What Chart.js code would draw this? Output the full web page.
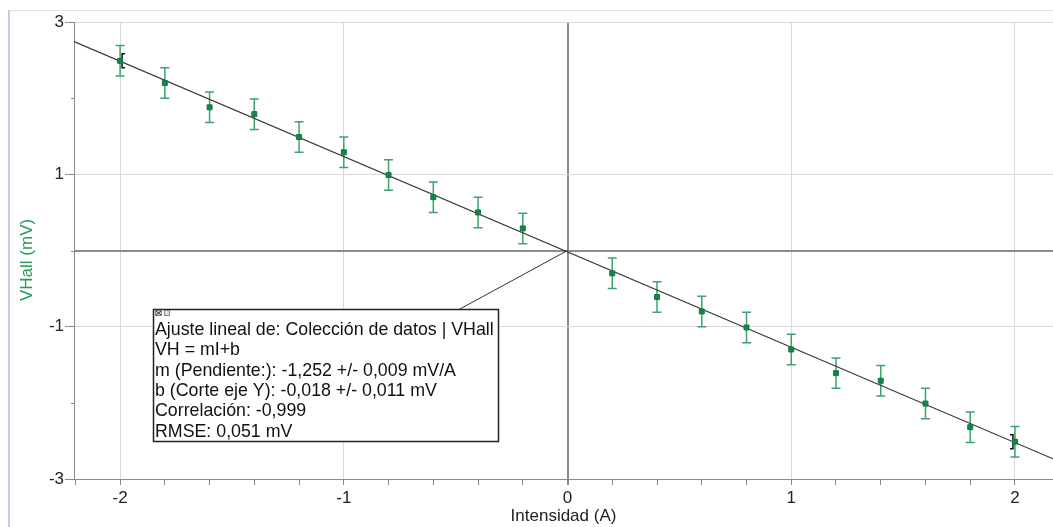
<!DOCTYPE html>
<html>
<head>
<meta charset="utf-8">
<script src="https://cdn.jsdelivr.net/npm/chart.js@4.4.1/dist/chart.umd.min.js"></script>
<style>
html, body { margin: 0; padding: 0; background: #fff; }
#wrap { width: 1053px; height: 527px; }
</style>
</head>
<body>
<div id="wrap"><canvas id="myChart" width="1053" height="527"></canvas></div>
<script>
// measured points (Intensidad in A, VHall in mV)
var intensidad = [-2, -1.8, -1.6, -1.4, -1.2, -1, -0.8, -0.6, -0.4, -0.2,
                  0.2, 0.4, 0.6, 0.8, 1, 1.2, 1.4, 1.6, 1.8, 2];
var vhall = [2.49, 2.20, 1.88, 1.79, 1.49, 1.29, 0.99, 0.70, 0.50, 0.29,
             -0.30, -0.61, -0.80, -1.01, -1.30, -1.61, -1.71, -2.01, -2.32, -2.51];
var vhallErr = [0.2, 0.2, 0.2, 0.2, 0.2, 0.2, 0.2, 0.2, 0.2, 0.2,
                0.2, 0.2, 0.2, 0.2, 0.2, 0.2, 0.2, 0.2, 0.2, 0.2];

// fit line end points
var fitX = [-2.206, 2.17];
var fitY = [2.744, -2.735];

var xLabelled = [-2, -1, 0, 1, 2];
var yLabelled = [3, 1, -1, -3];
var yMinor = [2, 0, -2];

var fitText = [
  "Ajuste lineal de: Colección de datos | VHall",
  "VH = mI+b",
  "m (Pendiente:): -1,252 +/- 0,009 mV/A",
  "b (Corte eje Y): -0,018 +/- 0,011 mV",
  "Correlación: -0,999",
  "RMSE: 0,051 mV"
];

var FONT = "'Liberation Sans', Arial, sans-serif";

function isNear(v, list) {
  for (var i = 0; i < list.length; i++) {
    if (Math.abs(v - list[i]) < 1e-6) return true;
  }
  return false;
}

// page frame (the thin lines of the program window)
var framePlugin = {
  id: 'frame',
  beforeDraw: function(chart) {
    var c = chart.ctx;
    c.save();
    c.strokeStyle = '#e2e2e2';
    c.lineWidth = 1;
    c.beginPath();
    c.moveTo(9, 10.5);
    c.lineTo(1053, 10.5);
    c.stroke();
    c.strokeStyle = '#c8c8f0';
    c.lineWidth = 2;
    c.beginPath();
    c.moveTo(9, 10);
    c.lineTo(9, 527);
    c.stroke();
    c.restore();
  },
  afterDraw: function(chart) {
    // short minor ticks on the y axis
    var c = chart.ctx;
    var ys = chart.scales.y;
    var x0 = chart.chartArea.left;
    c.save();
    c.strokeStyle = '#8a8a8a';
    c.lineWidth = 1;
    for (var i = 0; i < yMinor.length; i++) {
      var py = Math.round(ys.getPixelForValue(yMinor[i])) + 0.5;
      c.beginPath();
      c.moveTo(x0 - 3, py);
      c.lineTo(x0, py);
      c.stroke();
    }
    c.restore();
  }
};

// vertical error bars for dataset 0
var errorBarPlugin = {
  id: 'errorBars',
  beforeDatasetsDraw: function(chart) {
    var c = chart.ctx;
    var xs = chart.scales.x, ys = chart.scales.y;
    c.save();
    c.strokeStyle = '#3fa26e';
    c.lineWidth = 1.5;
    for (var i = 0; i < intensidad.length; i++) {
      var px = xs.getPixelForValue(intensidad[i]);
      var top = ys.getPixelForValue(vhall[i] + vhallErr[i]);
      var bot = ys.getPixelForValue(vhall[i] - vhallErr[i]);
      c.beginPath();
      c.moveTo(px, top); c.lineTo(px, bot);
      c.moveTo(px - 4.5, top); c.lineTo(px + 4.5, top);
      c.moveTo(px - 4.5, bot); c.lineTo(px + 4.5, bot);
      c.stroke();
    }
    // selection brackets on the first and last point
    c.strokeStyle = '#111';
    c.lineWidth = 1.5;
    var ends = [0, intensidad.length - 1];
    for (var k = 0; k < ends.length; k++) {
      var j = ends[k];
      var x0 = xs.getPixelForValue(intensidad[j]);
      var y0 = ys.getPixelForValue(vhall[j]);
      var dir = k === 0 ? 1 : -1;
      var bx = x0 + dir * 2;
      c.beginPath();
      c.moveTo(bx + dir * 3, y0 - 7);
      c.lineTo(bx, y0 - 7);
      c.lineTo(bx, y0 + 7);
      c.lineTo(bx + dir * 3, y0 + 7);
      c.stroke();
    }
    c.restore();
  }
};

// floating fit-result box with its leader line
var fitBoxPlugin = {
  id: 'fitBox',
  afterDraw: function(chart) {
    var c = chart.ctx;
    var xs = chart.scales.x, ys = chart.scales.y;
    var left = 153.5, top = 309.5, w = 345, h = 132;
    c.save();
    c.strokeStyle = '#333';
    c.lineWidth = 1;
    c.beginPath();
    c.moveTo(xs.getPixelForValue(0), ys.getPixelForValue(0));
    c.lineTo(459, top);
    c.stroke();

    c.fillStyle = '#fff';
    c.fillRect(left, top, w, h);
    c.strokeStyle = '#222';
    c.lineWidth = 1.5;
    c.strokeRect(left, top, w, h);

    // little window icons
    c.fillStyle = '#888';
    c.fillRect(155, 310, 7, 6);
    c.fillRect(164, 310, 6, 6);
    c.fillStyle = '#ddd';
    c.fillRect(156, 311, 5, 4);
    c.fillRect(165, 311, 4, 4);
    c.strokeStyle = '#333';
    c.lineWidth = 1;
    c.beginPath();
    c.moveTo(156, 311); c.lineTo(161, 315);
    c.moveTo(161, 311); c.lineTo(156, 315);
    c.stroke();

    c.fillStyle = '#111';
    c.font = '17.8px ' + FONT;
    c.textBaseline = 'middle';
    c.textAlign = 'left';
    for (var i = 0; i < fitText.length; i++) {
      c.fillText(fitText[i], left + 1.5, 330 + i * 20.4);
    }
    c.restore();
  }
};

var points = intensidad.map(function(v, i) { return {x: v, y: vhall[i]}; });
var fitLine = fitX.map(function(v, i) { return {x: v, y: fitY[i]}; });

var config = {
  type: 'scatter',
  data: {
    datasets: [
      {
        label: 'VHall',
        data: points,
        pointStyle: 'rect',
        pointRadius: 3.5,
        backgroundColor: '#13874a',
        borderColor: '#0d7a40',
        borderWidth: 1,
        order: 0
      },
      {
        label: 'Ajuste lineal',
        type: 'line',
        data: fitLine,
        borderColor: '#333',
        borderWidth: 1.2,
        pointRadius: 0,
        fill: false,
        order: 1
      }
    ]
  },
  options: {
    responsive: false,
    animation: false,
    devicePixelRatio: 1,
    layout: { autoPadding: false, padding: { left: 0, right: 0, top: 22, bottom: 0 } },
    plugins: {
      legend: { display: false },
      tooltip: { enabled: false }
    },
    scales: {
      x: {
        type: 'linear',
        position: 'bottom',
        min: fitX[0],
        max: fitX[1],
        afterFit: function(s) { s.height = 48; s.paddingRight = 0; s.paddingLeft = 0; },
        border: { color: '#8a8a8a', width: 1 },
        grid: {
          color: function(ctx) {
            var v = ctx.tick.value;
            if (Math.abs(v) < 1e-6) return '#8c8c8c';
            return isNear(v, xLabelled) ? '#d9d9d9' : 'rgba(0,0,0,0)';
          },
          lineWidth: function(ctx) { return Math.abs(ctx.tick.value) < 1e-6 ? 2 : 1; },
          tickColor: '#8a8a8a',
          tickLength: 6
        },
        ticks: {
          stepSize: 0.2,
          includeBounds: false,
          autoSkip: false,
          maxRotation: 0,
          padding: 3,
          color: '#222',
          font: { family: FONT, size: 17 },
          callback: function(v) { return isNear(v, xLabelled) ? String(Math.round(v)) : ''; }
        },
        title: {
          display: true,
          text: 'Intensidad (A)',
          color: '#222',
          font: { family: FONT, size: 17 },
          padding: { top: 0, bottom: 0 }
        }
      },
      y: {
        type: 'linear',
        min: -3,
        max: 3,
        afterFit: function(s) { s.width = 74; s.paddingTop = 0; s.paddingBottom = 0; },
        border: { color: '#8a8a8a', width: 1 },
        grid: {
          color: function(ctx) {
            var v = ctx.tick.value;
            if (Math.abs(v) < 1e-6) return '#8c8c8c';
            return isNear(v, yLabelled) ? '#d9d9d9' : 'rgba(0,0,0,0)';
          },
          lineWidth: function(ctx) { return Math.abs(ctx.tick.value) < 1e-6 ? 2 : 1; },
          tickColor: function(ctx) { return isNear(ctx.tick.value, yLabelled) ? '#8a8a8a' : 'rgba(0,0,0,0)'; },
          tickLength: 9
        },
        ticks: {
          stepSize: 1,
          autoSkip: false,
          padding: 1,
          color: '#222',
          font: { family: FONT, size: 17 },
          callback: function(v) { return isNear(v, yLabelled) ? String(v) : ''; }
        },
        title: {
          display: true,
          // trailing spaces nudge the rotated title a little lower, as in the original
          text: 'VHall (mV)    ',
          color: '#2a9a5c',
          font: { family: FONT, size: 17 },
          padding: { top: 17, bottom: 0 }
        }
      }
    }
  },
  plugins: [framePlugin, errorBarPlugin, fitBoxPlugin]
};

var ctx = document.getElementById('myChart').getContext('2d');
var myChart = new Chart(ctx, config);
</script>
</body>
</html>
